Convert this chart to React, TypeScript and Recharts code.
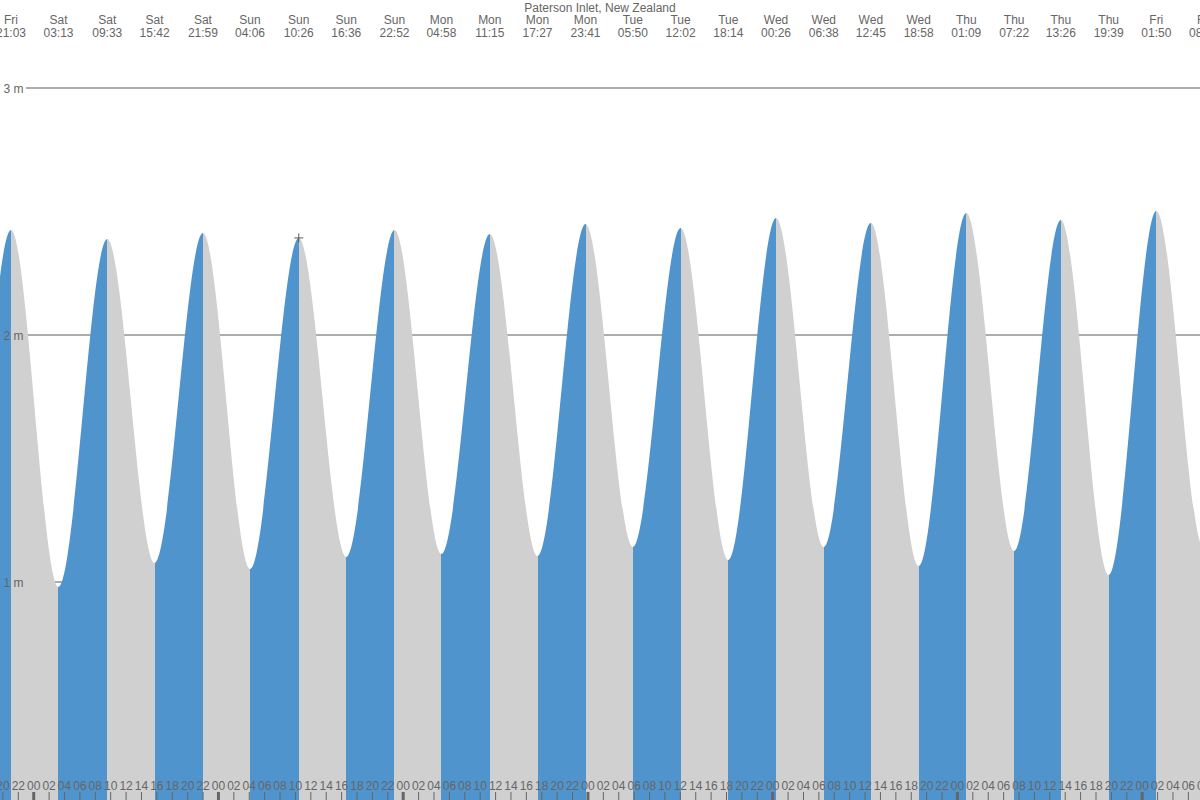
import React from 'react';
import { AreaChart, Area, XAxis, YAxis, CartesianGrid, ReferenceDot } from 'recharts';

const TITLE = 'Paterson Inlet, New Zealand';

// Tide extremes (day, local time, height in metres)
const eventDays = [
  'Fri', 'Fri', 'Fri',
  'Sat', 'Sat', 'Sat', 'Sat',
  'Sun', 'Sun', 'Sun', 'Sun',
  'Mon', 'Mon', 'Mon', 'Mon',
  'Tue', 'Tue', 'Tue',
  'Wed', 'Wed', 'Wed', 'Wed',
  'Thu', 'Thu', 'Thu', 'Thu',
  'Fri', 'Fri', 'Fri',
];
const eventTimes = [
  '08:40', '14:50', '21:03',
  '03:13', '09:33', '15:42', '21:59',
  '04:06', '10:26', '16:36', '22:52',
  '04:58', '11:15', '17:27', '23:41',
  '05:50', '12:02', '18:14',
  '00:26', '06:38', '12:45', '18:58',
  '01:09', '07:22', '13:26', '19:39',
  '01:50', '08:02', '14:10',
];
const eventHeights = [
  2.38, 1.02, 2.425,
  0.98, 2.389, 1.077, 2.413,
  1.053, 2.393, 1.101, 2.425,
  1.113, 2.409, 1.105, 2.449,
  1.142, 2.433, 1.089,
  2.474, 1.142, 2.453, 1.065,
  2.494, 1.126, 2.466, 1.028,
  2.502, 1.134, 2.45,
];

const MARKER_DAY = 'Sun';
const MARKER_TIME = '10:26';

const Y_TICKS = [1, 2, 3];
const Y_MIN = 0.1174;
const Y_MAX = 3.3563;
const X_MIN = 19.62; // hours since Friday 00:00
const X_MAX = 175.51;
const HOUR_STEP = 2;

const BLUE = '#4f94cd';
const GREY = '#d0d0d0';
const TEXT = '#666666';
const LINE = '#5a5a5a';
const FONT = '"Liberation Sans", Arial, sans-serif';

const W = 1200;
const H = 800;

// Convert day/time sequence into hours from first Friday 00:00
const eventT: number[] = (() => {
  const out: number[] = [];
  let dayIdx = 0;
  for (let i = 0; i < eventDays.length; i++) {
    if (i > 0 && eventDays[i] !== eventDays[i - 1]) dayIdx += 1;
    const [hh, mm] = eventTimes[i].split(':').map(Number);
    out.push(dayIdx * 24 + hh + mm / 60);
  }
  return out;
})();

const data = eventT.map((t, i) => ({ t, h: eventHeights[i] }));

const hourTicks: number[] = [];
for (let t = Math.ceil(X_MIN / HOUR_STEP) * HOUR_STEP; t <= X_MAX + HOUR_STEP; t += HOUR_STEP) hourTicks.push(t);

const markerIndex = eventDays.findIndex((d, i) => d === MARKER_DAY && eventTimes[i] === MARKER_TIME);

// Gradient stops: blue while rising, grey while falling
const clamp = (v: number) => Math.max(0, Math.min(1, v));
const stops: { offset: number; color: string }[] = [];
for (let i = 0; i < eventT.length - 1; i++) {
  const color = eventHeights[i + 1] > eventHeights[i] ? BLUE : GREY;
  stops.push({ offset: clamp((eventT[i] - X_MIN) / (X_MAX - X_MIN)), color });
  stops.push({ offset: clamp((eventT[i + 1] - X_MIN) / (X_MAX - X_MIN)), color });
}

const BottomTick = (props: any) => {
  const { x, payload } = props;
  const v = payload.value as number;
  const hr = ((v % 24) + 24) % 24;
  const label = String(hr).padStart(2, '0');
  const midnight = hr === 0;
  return (
    <g>
      <text x={x} y={H - 10} textAnchor="middle" fontSize={12} fill={TEXT} fontFamily={FONT}>
        {label}
      </text>
      <line x1={x} x2={x} y1={H - 8} y2={H} stroke={TEXT} strokeWidth={midnight ? 3 : 1} />
    </g>
  );
};

const TopTick = (props: any) => {
  const { x, payload } = props;
  const idx = eventT.findIndex((v) => Math.abs(v - payload.value) < 1e-6);
  if (idx < 0) return <g />;
  return (
    <g>
      <text x={x} y={24} textAnchor="middle" fontSize={12} fill={TEXT} fontFamily={FONT}>
        {eventDays[idx]}
      </text>
      <text x={x} y={36.5} textAnchor="middle" fontSize={12} fill={TEXT} fontFamily={FONT}>
        {eventTimes[idx]}
      </text>
    </g>
  );
};

const LeftTick = (props: any) => {
  const { y, payload } = props;
  return (
    <text x={23.5} y={y + 4.5} textAnchor="end" fontSize={12} fill={TEXT} fontFamily={FONT}>
      {`${payload.value} m`}
    </text>
  );
};

const PlusShape = (props: any) => {
  const { cx, cy } = props;
  return (
    <path
      d={`M${cx - 4.5},${cy}H${cx + 4.5}M${cx},${cy - 4.5}V${cy + 4.5}`}
      stroke={LINE}
      strokeWidth={1}
      fill="none"
    />
  );
};

export default function App() {
  return (
    <div style={{ position: 'absolute', left: 0, top: 0, width: W, height: H, background: '#fff', overflow: 'hidden' }}>
      <AreaChart width={W} height={H} data={data} margin={{ top: -1, right: 0, bottom: -1, left: -1 }}>
        <defs>
          <linearGradient id="tideFill" gradientUnits="userSpaceOnUse" x1={0} y1={0} x2={W} y2={0}>
            {stops.map((s, i) => (
              <stop key={i} offset={s.offset} stopColor={s.color} stopOpacity={1} />
            ))}
          </linearGradient>
        </defs>
        <CartesianGrid horizontal vertical={false} syncWithTicks stroke={LINE} x={26} width={W - 26} />
        <Area
          dataKey="h"
          type="monotone"
          stroke="none"
          fill="url(#tideFill)"
          fillOpacity={1}
          baseValue="dataMin"
          dot={false}
          activeDot={false}
          isAnimationActive={false}
        />
        <XAxis
          dataKey="t"
          type="number"
          domain={[X_MIN, X_MAX]}
          allowDataOverflow
          ticks={hourTicks}
          interval={0}
          height={1}
          tickSize={0}
          tickMargin={0}
          axisLine={false}
          tickLine={false}
          tick={BottomTick}
        />
        <XAxis
          xAxisId="top"
          orientation="top"
          dataKey="t"
          type="number"
          domain={[X_MIN, X_MAX]}
          allowDataOverflow
          ticks={eventT}
          interval={0}
          height={1}
          tickSize={0}
          tickMargin={0}
          axisLine={false}
          tickLine={false}
          tick={TopTick}
        />
        <YAxis
          type="number"
          domain={[Y_MIN, Y_MAX]}
          allowDataOverflow
          ticks={Y_TICKS}
          interval={0}
          width={1}
          tickSize={0}
          tickMargin={0}
          axisLine={false}
          tickLine={false}
          tick={LeftTick}
        />
        {markerIndex >= 0 && (
          <ReferenceDot x={eventT[markerIndex]} y={eventHeights[markerIndex]} shape={PlusShape} />
        )}
        <text x={W / 2} y={11.5} textAnchor="middle" fontSize={12} fill={TEXT} fontFamily={FONT}>
          {TITLE}
        </text>
      </AreaChart>
    </div>
  );
}
